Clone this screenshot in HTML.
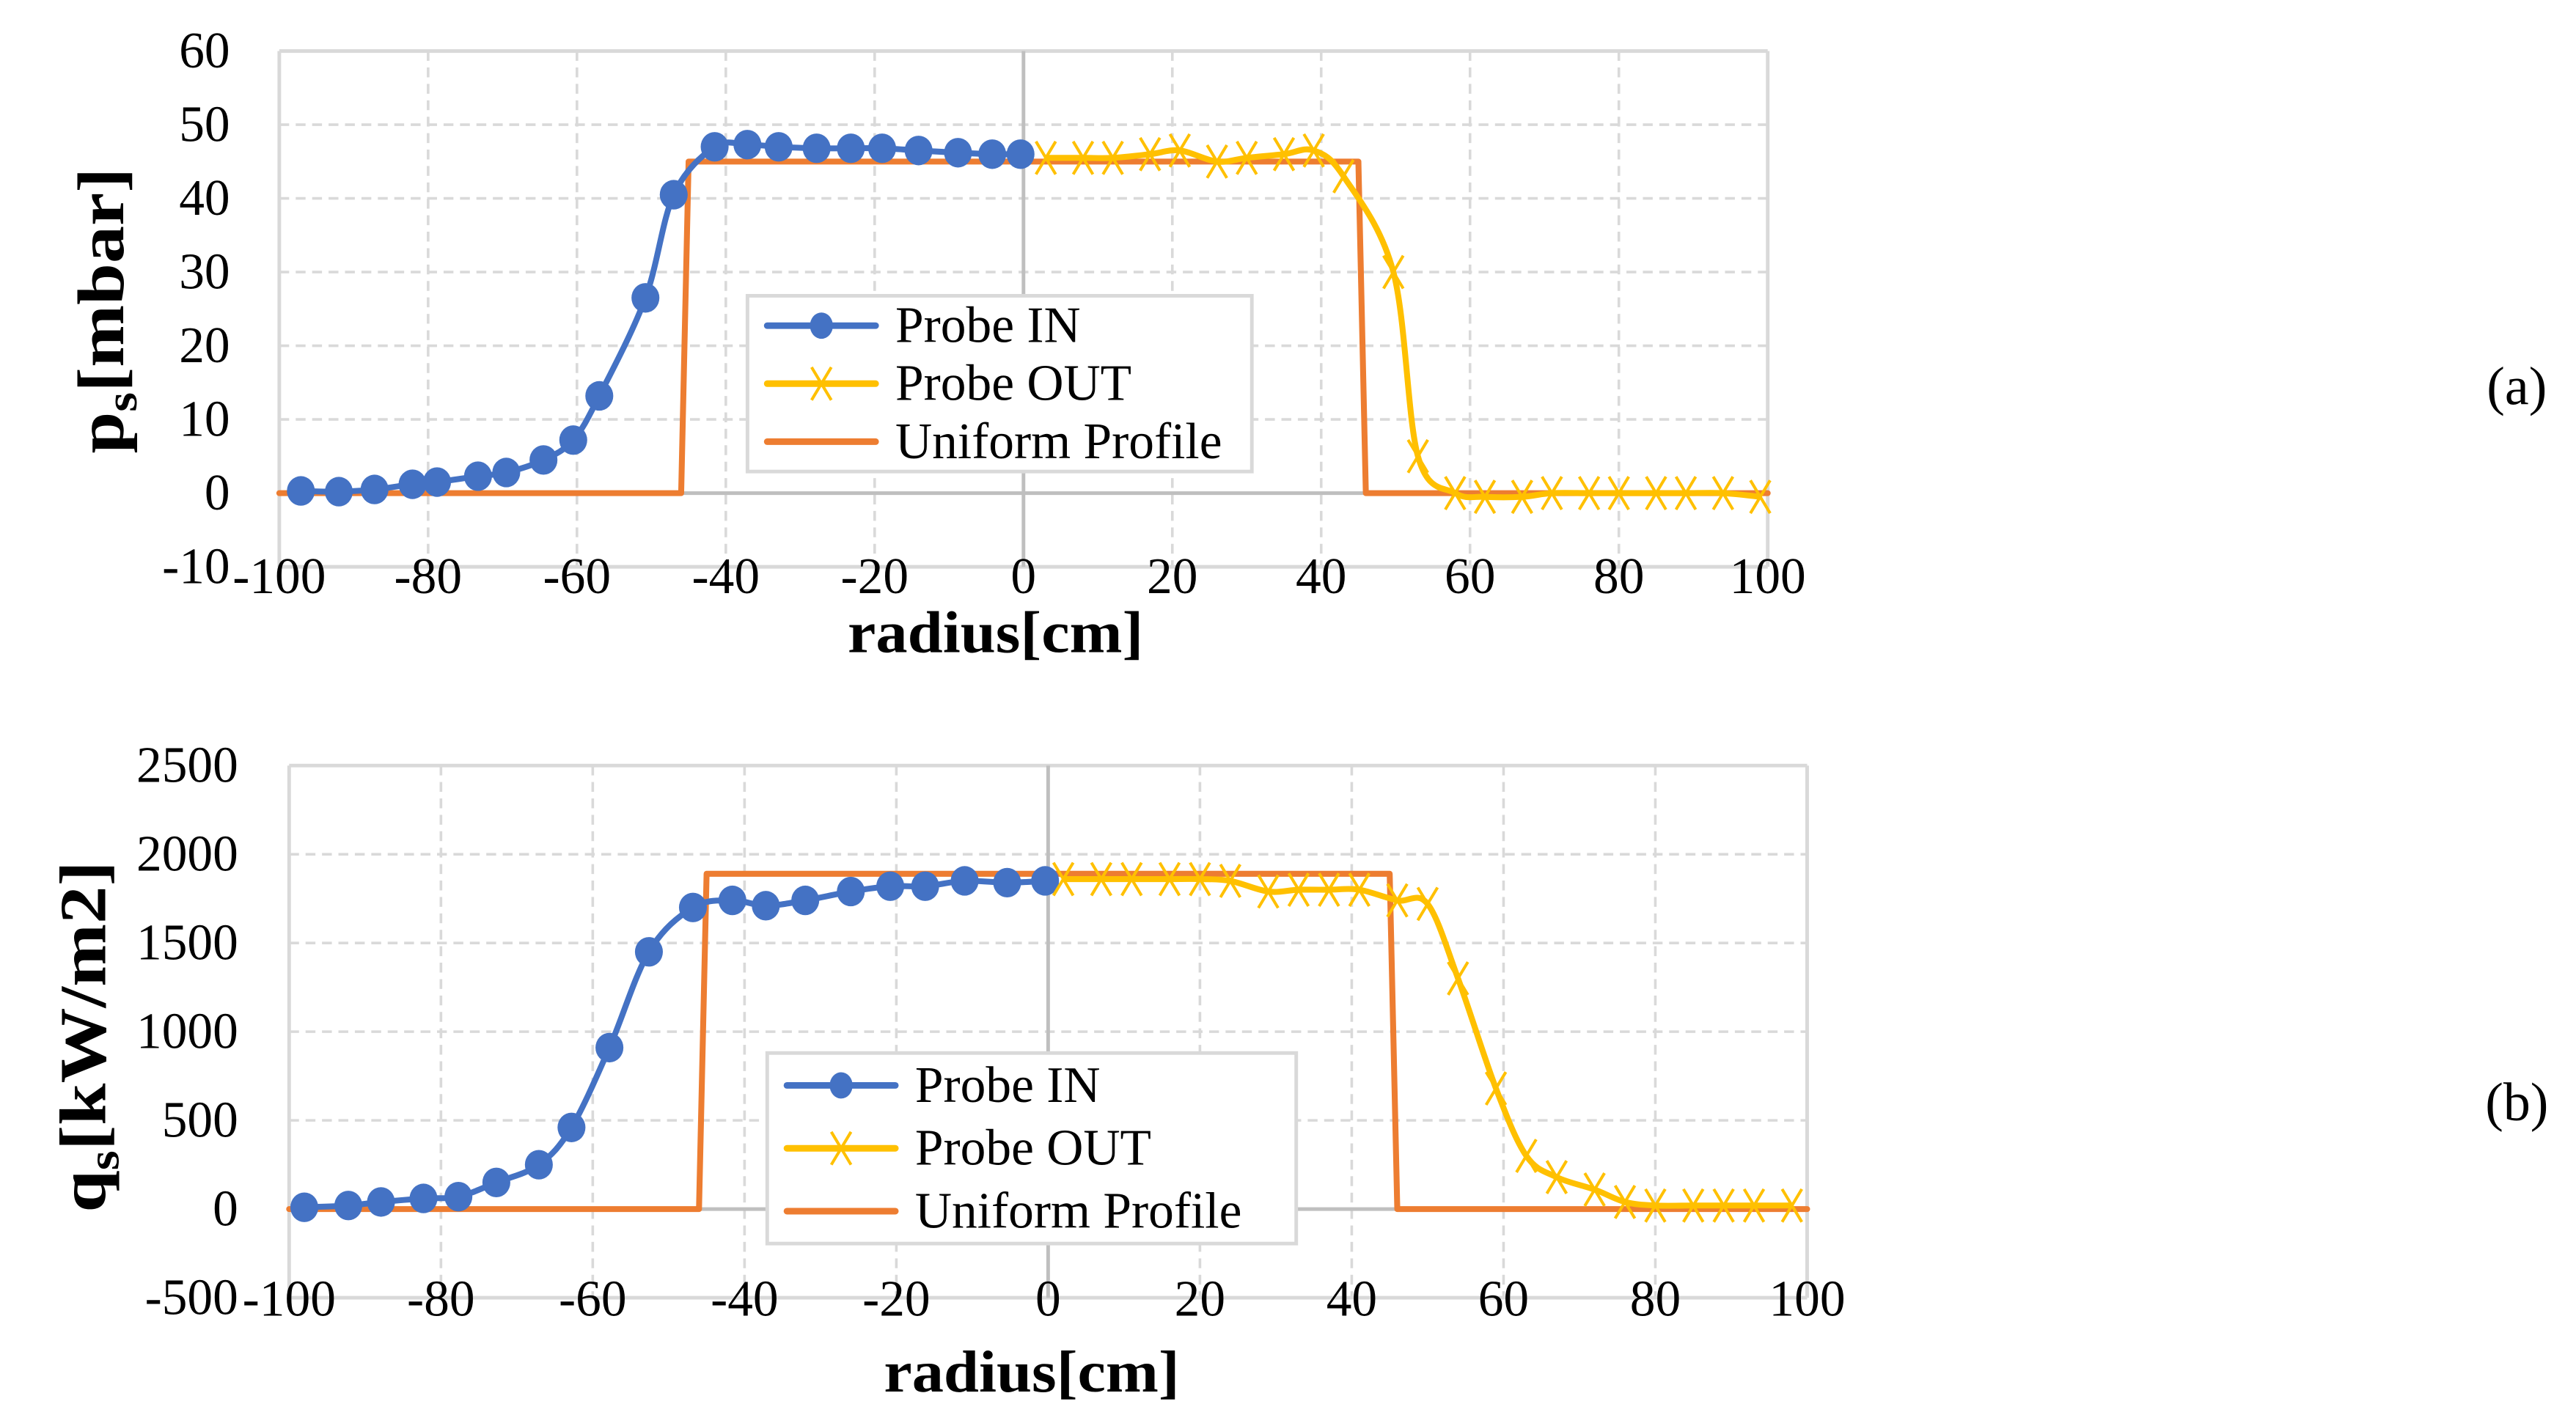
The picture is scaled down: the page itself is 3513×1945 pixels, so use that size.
<!DOCTYPE html>
<html><head><meta charset="utf-8">
<style>
html,body{margin:0;padding:0;background:#fff;}
svg{display:block;}
text{font-family:"Liberation Serif",serif;fill:#000;}
</style></head>
<body>
<svg id="fig" width="3513" height="1945" viewBox="0 0 1568 868" xmlns="http://www.w3.org/2000/svg">
<g id="chartA"></g>
<g id="chartB"></g>
</svg>
<script>
// ---- Chart (a) data ----
const aInX = [-97.1,-92,-87.2,-82.1,-78.8,-73.3,-69.5,-64.5,-60.5,-57,-50.8,-47,-41.5,-37.1,-32.9,-27.8,-23.2,-19,-14.1,-8.8,-4.2,-0.4];
const aInY = [0.3,0.2,0.5,1.2,1.5,2.3,2.8,4.5,7.2,13.2,26.5,40.5,47,47.3,47,46.8,46.8,46.8,46.5,46.2,46,46];
const aOutX = [3,8,12,17,21,26,30,35,39,43,49.7,53,58,62,67,71,76,80,85,89,94,99];
const aOutY = [45.5,45.5,45.5,46,46.5,45,45.5,46,46.5,43,30,5,0,-0.5,-0.5,0,0,0,0,0,0,-0.5];
const aUniX = [-100,-46,-45,45,46,100];
const aUniY = [0,0,45,45,0,0];
const aYTicks = [-10,0,10,20,30,40,50,60];
const aXTicks = [-100,-80,-60,-40,-20,0,20,40,60,80,100];
// ---- Chart (b) data ----
const bInX = [-98,-92.2,-87.9,-82.3,-77.7,-72.7,-67.1,-62.8,-57.8,-52.6,-46.8,-41.6,-37.2,-32,-26,-20.8,-16.2,-11,-5.4,-0.4];
const bInY = [10,20,40,60,70,150,250,460,910,1450,1700,1740,1710,1740,1790,1820,1820,1850,1840,1850];
const bOutX = [2,7,11,16,20,24,29,33,37,41,46,50,54,59,63,67,72,76,80,85,89,93,98];
const bOutY = [1860,1860,1860,1860,1860,1850,1790,1800,1800,1800,1740,1720,1300,680,300,180,110,40,20,20,20,20,20];
const bUniX = [-100,-46,-45,45,46,100];
const bUniY = [0,0,1890,1890,0,0];
const bYTicks = [-500,0,500,1000,1500,2000,2500];
const bXTicks = [-100,-80,-60,-40,-20,0,20,40,60,80,100];

const NS = "http://www.w3.org/2000/svg";
function mk(parent, tag, attrs, txt){
  const e = document.createElementNS(NS, tag);
  for (const k in attrs) e.setAttribute(k, attrs[k]);
  if (txt !== undefined) e.textContent = txt;
  parent.appendChild(e);
  return e;
}
function smoothPath(pts){
  let d = "M" + pts[0][0] + "," + pts[0][1];
  for (let i=0;i<pts.length-1;i++){
    const p0=pts[Math.max(0,i-1)], p1=pts[i], p2=pts[i+1], p3=pts[Math.min(pts.length-1,i+2)];
    const t=1/6;
    const c1=[p1[0]+(p2[0]-p0[0])*t, p1[1]+(p2[1]-p0[1])*t];
    const c2=[p2[0]-(p3[0]-p1[0])*t, p2[1]-(p3[1]-p1[1])*t];
    d += " C"+c1[0]+","+c1[1]+" "+c2[0]+","+c2[1]+" "+p2[0]+","+p2[1];
  }
  return d;
}
function drawChart(g, cfg){
  const {x0,x1,yTop,yBot,ymin,ymax,xTicks,yTicks,inX,inY,outX,outY,uniX,uniY,yLabelMain,yLabelSub,yLabelRest,titleX,titleY,titleLen,legend,tag,tagY,xTitleX,xTitleY,yLabX,xLabY} = cfg;
  const sx = v => x0 + (v+100)/200*(x1-x0);
  const sy = v => yBot - (v-ymin)/(ymax-ymin)*(yBot-yTop);
  yTicks.forEach(t=>{
    const y=sy(t);
    const solid = (t===ymin||t===ymax);
    const l = mk(g,"line",{x1:x0,x2:x1,y1:y,y2:y,stroke:"#d9d9d9","stroke-width":solid?2.2:1.6,"stroke-dasharray":solid?"":"6,4"});
    
    
    const tx = mk(g,"text",{x:yLabX,y:y+10,"text-anchor":"end","font-size":31},String(t));
    
    
  });
  xTicks.forEach(t=>{
    const x=sx(t);
    const solid=(t===-100||t===100);
    const isZero=(t===0);
    const l = mk(g,"line",{x1:x,x2:x,y1:yTop,y2:yBot,stroke:isZero?"#bfbfbf":"#d9d9d9","stroke-width":solid||isZero?2.2:1.6,"stroke-dasharray":(solid||isZero)?"":"6,4"});
    
    
    const tx = mk(g,"text",{x:x,y:xLabY,"text-anchor":"middle","font-size":31},String(t));
    
    
  });
  const za = mk(g,"line",{x1:x0,x2:x1,y1:sy(0),y2:sy(0),stroke:"#bfbfbf","stroke-width":2.2});
  
  
  const up = mk(g,"polyline",{points:uniX.map((v,i)=>sx(v)+","+sy(uniY[i])).join(" "),fill:"none",stroke:"#ed7d31","stroke-width":3.6,"stroke-linejoin":"round","stroke-linecap":"round"});
  
  
  const inPts = inX.map((v,i)=>[sx(v),sy(inY[i])]);
  const ip = mk(g,"path",{d:smoothPath(inPts),fill:"none",stroke:"#4472c4","stroke-width":3.6});
  
  
  inPts.forEach(p=>{
    const c = mk(g,"ellipse",{cx:p[0],cy:p[1],rx:8.5,ry:9,fill:"#4472c4"});
    
    
  });
  const outPts = outX.map((v,i)=>[sx(v),sy(outY[i])]);
  const op = mk(g,"path",{d:smoothPath(outPts),fill:"none",stroke:"#ffc000","stroke-width":3.6});
  
  
  outPts.forEach(p=>{
    const m = mk(g,"path",{d:`M${p[0]-6},${p[1]-10}L${p[0]+6},${p[1]+10}M${p[0]+6},${p[1]-10}L${p[0]-6},${p[1]+10}`,stroke:"#ffc000","stroke-width":1.8,fill:"none"});
    
    
  });
  const lg = mk(g,"g",{});
  
  
  const box = mk(lg,"rect",{x:legend.x,y:legend.y,width:legend.w,height:legend.h,fill:"#fff",stroke:"#d9d9d9","stroke-width":2.2});
  
  
  const names=["Probe IN","Probe OUT","Uniform Profile"], cols=["#4472c4","#ffc000","#ed7d31"];
  names.forEach((n,i)=>{
    const cy = legend.y + legend.h*(0.17+0.33*i);
    const ent = mk(lg,"g",{});
    
    
    mk(ent,"line",{x1:legend.x+12,x2:legend.x+78,y1:cy,y2:cy,stroke:cols[i],"stroke-width":4,"stroke-linecap":"round"});
    const mx=legend.x+45;
    if(i===0) mk(ent,"ellipse",{cx:mx,cy:cy,rx:7,ry:8,fill:cols[0]});
    if(i===1) mk(ent,"path",{d:`M${mx-6},${cy-10}L${mx+6},${cy+10}M${mx+6},${cy-10}L${mx-6},${cy+10}`,stroke:cols[1],"stroke-width":1.8});
    mk(ent,"text",{x:legend.x+90,y:cy+10,"font-size":31},n);
  });
  const yt = mk(g,"text",{transform:`translate(${titleX},${titleY}) rotate(-90)`,"text-anchor":"middle","font-size":40,"font-weight":"bold",textLength:titleLen,lengthAdjust:"spacingAndGlyphs"});
  
  
  mk(yt,"tspan",{},yLabelMain);
  mk(yt,"tspan",{"font-size":27,dy:8},yLabelSub);
  mk(yt,"tspan",{dy:-8},yLabelRest);
  const xt = mk(g,"text",{x:xTitleX,y:xTitleY,"text-anchor":"middle","font-size":36,"font-weight":"bold",textLength:180,lengthAdjust:"spacingAndGlyphs"},"radius[cm]");
  
  
  const tg = mk(g,"text",{x:1532,y:tagY,"text-anchor":"middle","font-size":33},tag);
  
  
}
drawChart(document.getElementById('chartA'),{
  x0:170,x1:1076,yTop:31,yBot:345,ymin:-10,ymax:60,xTicks:aXTicks,yTicks:aYTicks,
  inX:aInX,inY:aInY,outX:aOutX,outY:aOutY,uniX:aUniX,uniY:aUniY,
  yLabelMain:"p",yLabelSub:"s",yLabelRest:"[mbar]",titleX:75,titleY:189,titleLen:174,
  legend:{x:455,y:180,w:307,h:107},tag:"(a)",tagY:246,xTitleX:606,xTitleY:397,yLabX:140,xLabY:361
});
drawChart(document.getElementById('chartB'),{
  x0:176,x1:1100,yTop:466,yBot:790,ymin:-500,ymax:2500,xTicks:bXTicks,yTicks:bYTicks,
  inX:bInX,inY:bInY,outX:bOutX,outY:bOutY,uniX:bUniX,uniY:bUniY,
  yLabelMain:"q",yLabelSub:"s",yLabelRest:"[kW/m2]",titleX:64,titleY:631,titleLen:214,
  legend:{x:467,y:641,w:322,h:116},tag:"(b)",tagY:682,xTitleX:628,xTitleY:847,yLabX:145,xLabY:801
});
</script>
</body></html>
